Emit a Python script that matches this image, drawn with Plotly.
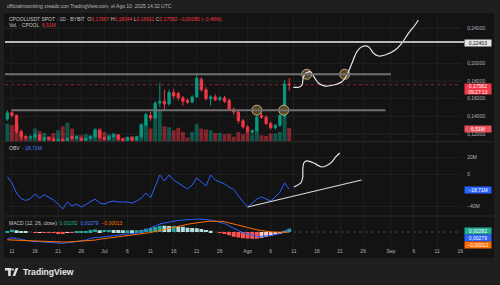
import plotly.graph_objects as go
import pandas as pd

W, H = 500, 285
def X(px): return px / W
def Y(py): return 1 - py / H

# ---------------- data ----------------
dates = pd.date_range("2025-06-10", periods=62, freq="D")
opens = [.137,.144,.141,.123,.117,.116,.117,.119,.113,.116,.114,.112,.114,.111,.117,.115,.115,.113,.115,.117,
         .124,.116,.114,.117,.119,.114,.113,.116,.113,.117,.130,.141,.138,.155,.157,.154,.167,.166,.161,.158,
         .156,.162,.182,.170,.160,.162,.159,.161,.158,.148,.145,.135,.128,.122,.124,.141,.139,.132,.127,.130,
         .141,.17667]
highs = [.147,.148,.142,.125,.119,.119,.121,.120,.117,.117,.116,.115,.115,.116,.118,.118,.116,.116,.118,.126,
         .125,.117,.118,.120,.120,.115,.117,.117,.118,.132,.144,.145,.157,.178,.170,.170,.171,.168,.163,.160,
         .164,.188,.184,.173,.164,.165,.163,.163,.160,.150,.147,.137,.130,.125,.142,.144,.141,.134,.131,.143,
         .181,.18344]
lows = [.135,.139,.121,.114,.114,.114,.115,.112,.111,.113,.111,.111,.110,.110,.114,.114,.112,.112,.114,.116,
        .115,.113,.113,.116,.113,.112,.112,.112,.112,.116,.129,.135,.137,.150,.147,.152,.160,.158,.152,.154,
        .155,.161,.168,.158,.152,.157,.157,.155,.146,.142,.132,.126,.121,.119,.122,.137,.130,.125,.125,.128,
        .138,.16911]
closes = [.144,.141,.123,.117,.116,.117,.119,.113,.116,.114,.112,.114,.111,.115,.115,.117,.113,.115,.117,.124,
          .116,.114,.117,.119,.114,.113,.116,.113,.117,.130,.142,.138,.155,.157,.154,.167,.163,.161,.157,.156,
          .162,.183,.170,.160,.162,.159,.161,.157,.148,.145,.135,.128,.123,.124,.139,.139,.132,.127,.130,.141,
          .17667,.17582]
volume_m = [8.5,7.8,8.6,3.5,2.6,2.0,6.2,5.1,4.1,2.6,4.1,5.4,7.3,8.9,6.2,3.1,3.1,3.5,3.1,6.2,
            6.2,4.6,3.5,4.1,3.5,2.0,2.3,2.6,2.6,8.5,10.1,6.2,15.2,15.2,7.3,6.8,5.4,6.6,4.6,2.0,
            4.6,8.2,6.2,5.8,5.4,4.1,4.1,3.5,3.8,2.3,4.6,3.5,4.6,3.1,7.0,3.0,2.7,3.9,3.9,4.6,
            14.9,6.51]
obv_m = [-3.3,-11.0,-23.3,-30.1,-32.5,-30.1,-24.5,-29.4,-25.2,-28.8,-31.9,-36.8,-42.9,-34.4,-39.3,-36.8,-40.5,-37.4,-34.4,-30.7,
         -35.6,-36.8,-34.4,-33.1,-34.4,-34.4,-34.4,-35.6,-33.1,-29.4,-23.3,-29.4,-14.7,-1.2,-8.6,-1.2,-7.4,-11.0,-14.7,-18.4,
         -13.5,-4.9,-9.8,-14.7,-1.2,-7.4,-9.8,-12.3,-15.9,-19.0,-27.0,-33.1,-40.5,-35.6,-30.7,-28.2,-30.7,-33.1,-28.2,-22.1,
         -11.0,-18.71]
macd_line = [-.0064,-.0052,-.0059,-.0068,-.0077,-.0082,-.0086,-.0086,-.0091,-.0094,-.0097,-.0100,-.0103,-.0095,-.0094,-.0086,-.0082,-.0073,-.0059,-.0050,
             -.0048,-.0041,-.0036,-.0032,-.0027,-.0023,-.0018,-.0014,-.0009,.0000,.0018,.0032,.0050,.0073,.0082,.0091,.0100,.0105,.0109,.0109,
             .0114,.0118,.0118,.0114,.0109,.0100,.0091,.0077,.0055,.0032,.0014,-.0005,-.0018,-.0032,-.0041,-.0039,-.0036,-.0032,-.0023,-.0014,
             .0009,.00279]
signal_line = [-.0071,-.0073,-.0075,-.0076,-.0078,-.0082,-.0084,-.0085,-.0087,-.0089,-.0091,-.0091,-.0091,-.0091,-.0089,-.0087,-.0085,-.0082,-.0077,-.0073,
               -.0065,-.0060,-.0055,-.0050,-.0045,-.0040,-.0035,-.0029,-.0024,-.0018,-.0012,-.0005,.0005,.0015,.0025,.0036,.0045,.0055,.0062,.0070,
               .0077,.0084,.0091,.0095,.0098,.0100,.0098,.0093,.0084,.0075,.0064,.0052,.0041,.0029,.0020,.0013,.0006,.0002,-.0001,-.0002,
               -.0002,-.00013]

price_ticks = [0.12, 0.14, 0.16, 0.18, 0.20, 0.24]
price_tick_text = ["0,12000", "0,14000", "0,16000", "0,18000", "0,20000", "0,24000"]
obv_ticks = [20, 0, -40]
obv_tick_text = ["20M", "0", "−40M"]
date_ticks = ["2025-06-11","2025-06-16","2025-06-21","2025-06-26","2025-07-01","2025-07-06","2025-07-11",
              "2025-07-16","2025-07-21","2025-07-26","2025-08-01","2025-08-06","2025-08-11","2025-08-16",
              "2025-08-21","2025-08-26","2025-09-01","2025-09-06","2025-09-11","2025-09-16"]
date_tick_text = ["11","16","21","26","Jul","6","11","16","21","26","Ago","6","11","16","21","26","Sep","6","11","16"]
grid_price = [0.12, 0.14, 0.16, 0.18, 0.20, 0.22, 0.24]

# drawn levels / annotations (data coordinates)
level_top = 0.22403
level_mid = 0.1876
level_low = 0.147
circle_dates = ["2025-08-03 00:00", "2025-08-08 20:00", "2025-08-13 19:00", "2025-08-22 00:00"]
circle_prices = [0.147, 0.147, 0.1876, 0.1876]
draw_base = pd.Timestamp("2025-06-11")
price_draw_days = [60.85, 62.08, 62.79, 63.01, 63.53, 64.6, 65.32, 66.39, 67.84, 69.63, 71.42, 72.5,
                   73.57, 74.65, 75.73, 77.17, 78.25, 79.33, 80.77, 82.93, 84.35, 85.79, 87.24, 87.95]
price_draw_vals = [0.1729, 0.1729, 0.1755, 0.1831, 0.1887, 0.1905, 0.1849, 0.1774, 0.1743, 0.1755, 0.1792, 0.1868,
                   0.2000, 0.2132, 0.2188, 0.2188, 0.2114, 0.2083, 0.2094, 0.2151, 0.2227, 0.2340, 0.2434, 0.2491]
obv_draw_days = [61.0, 62.51, 62.94, 62.94, 63.16, 63.81, 65.32, 67.04, 68.98, 70.06, 70.92]
obv_draw_vals = [-16.0, -11.0, -3.7, 4.9, 13.5, 16.0, 13.5, 8.6, 13.5, 20.9, 25.8]
obv_trend_days = [51.0, 75.66]
obv_trend_vals = [-40.5, -7.4]

# ---------------- style ----------------
FRAME = "#1f1f1f"
BG = "#131313"
GRID = "#1e1e1e"
TXT = "#b2b5be"
UP = "#089981"
DN = "#f23645"
FONT = "Liberation Sans, Arial, sans-serif"

fig = go.Figure()

vol_colors = ["rgba(8,153,129,0.5)" if c >= o else "rgba(242,54,69,0.5)" for o, c in zip(opens, closes)]
fig.add_trace(go.Bar(x=dates, y=volume_m, marker=dict(color=vol_colors, line=dict(width=0)),
                     xaxis="x", yaxis="y", hoverinfo="skip"))
fig.add_trace(go.Candlestick(x=dates, open=opens, high=highs, low=lows, close=closes,
                             increasing=dict(line=dict(color=UP, width=1), fillcolor=UP),
                             decreasing=dict(line=dict(color=DN, width=1), fillcolor=DN),
                             xaxis="x", yaxis="y2", hoverinfo="skip"))
fig.add_trace(go.Scatter(x=pd.to_datetime(circle_dates), y=circle_prices, mode="markers",
                         marker=dict(size=10, color="rgba(95,74,34,0.92)", line=dict(color="#bfae8a", width=1)),
                         xaxis="x", yaxis="y2", hoverinfo="skip"))
fig.add_trace(go.Scatter(x=[draw_base + pd.Timedelta(days=d) for d in price_draw_days], y=price_draw_vals,
                         mode="lines", line=dict(color="#e6e6e6", width=1.2, shape="spline", smoothing=0.8),
                         xaxis="x", yaxis="y2", hoverinfo="skip"))

# OBV
fig.add_trace(go.Scatter(x=dates, y=obv_m, mode="lines", line=dict(color="#2962ff", width=1),
                         xaxis="x2", yaxis="y3", hoverinfo="skip"))
fig.add_trace(go.Scatter(x=[draw_base + pd.Timedelta(days=d) for d in obv_trend_days], y=obv_trend_vals,
                         mode="lines", line=dict(color="#d8d8d8", width=1.2),
                         xaxis="x2", yaxis="y3", hoverinfo="skip"))
fig.add_trace(go.Scatter(x=[draw_base + pd.Timedelta(days=d) for d in obv_draw_days], y=obv_draw_vals,
                         mode="lines", line=dict(color="#e6e6e6", width=1.2, shape="spline", smoothing=0.8),
                         xaxis="x2", yaxis="y3", hoverinfo="skip"))

# MACD
hist = [m - s for m, s in zip(macd_line, signal_line)]
hcol = []
for i, h in enumerate(hist):
    prev = hist[i - 1] if i > 0 else h
    if h >= 0:
        hcol.append("#26a69a" if h >= prev else "#b2dfdb")
    else:
        hcol.append("#ffcdd2" if h >= prev else "#ff5252")
fig.add_trace(go.Bar(x=dates, y=hist, marker=dict(color=hcol, line=dict(width=0)),
                     xaxis="x3", yaxis="y4", hoverinfo="skip"))
fig.add_trace(go.Scatter(x=dates, y=macd_line, mode="lines", line=dict(color="#2962ff", width=1),
                         xaxis="x3", yaxis="y4", hoverinfo="skip"))
fig.add_trace(go.Scatter(x=dates, y=signal_line, mode="lines", line=dict(color="#ff6d00", width=1),
                         xaxis="x3", yaxis="y4", hoverinfo="skip"))

xr = ["2025-06-09 12:00", "2025-09-16 05:00"]
xcommon = dict(domain=[X(5), X(463)], range=xr, type="date", tickvals=date_ticks, ticktext=date_tick_text,
               showgrid=True, gridcolor=GRID, gridwidth=1, zeroline=False, showline=False, ticks="",
               tickfont=dict(size=5, color=TXT, family=FONT))

shapes = [
    dict(type="rect", xref="paper", yref="paper", x0=X(4), x1=X(496), y0=Y(258), y1=Y(13),
         fillcolor=BG, line=dict(width=0), layer="below"),
    dict(type="line", xref="paper", yref="paper", x0=X(4), x1=X(496), y0=Y(141.7), y1=Y(141.7),
         line=dict(color="#2b2b2b", width=1)),
    dict(type="line", xref="paper", yref="paper", x0=X(4), x1=X(496), y0=Y(216), y1=Y(216),
         line=dict(color="#2b2b2b", width=1)),
    dict(type="line", xref="paper", yref="y2", x0=X(5), x1=X(463), y0=closes[-1], y1=closes[-1],
         line=dict(color="rgba(242,54,69,0.55)", width=1, dash="dot"), layer="below"),
    dict(type="line", xref="paper", yref="y2", x0=X(5), x1=X(466), y0=level_top, y1=level_top,
         line=dict(color="#b8b8b8", width=2)),
    dict(type="line", xref="x", yref="y2", x0="2025-06-09 12:00", x1="2025-09-01 00:00", y0=level_mid, y1=level_mid,
         line=dict(color="#707070", width=2)),
    dict(type="line", xref="x", yref="y2", x0="2025-06-11 00:00", x1="2025-08-30 20:00", y0=level_low, y1=level_low,
         line=dict(color="#707070", width=2)),
    dict(type="line", xref="paper", yref="y4", x0=X(5), x1=X(463), y0=0, y1=0,
         line=dict(color="#444444", width=1, dash="dot"), layer="below"),
    # TradingView logo glyph
    dict(type="rect", xref="paper", yref="paper", x0=X(5), x1=X(11.5), y0=Y(270.5), y1=Y(268),
         fillcolor="#e0e0e0", line=dict(width=0)),
    dict(type="rect", xref="paper", yref="paper", x0=X(8.2), x1=X(10.8), y0=Y(276), y1=Y(268),
         fillcolor="#e0e0e0", line=dict(width=0)),
    dict(type="circle", xref="paper", yref="paper", x0=X(11.8), x1=X(14.0), y0=Y(270.6), y1=Y(268.4),
         fillcolor="#e0e0e0", line=dict(width=0)),
    dict(type="path", xref="paper", yref="paper",
         path=f"M {X(12.6)} {Y(276)} L {X(15.8)} {Y(268)} L {X(18.4)} {Y(268)} L {X(15.2)} {Y(276)} Z",
         fillcolor="#e0e0e0", line=dict(width=0)),
]
# faint price grid at every level (incl. the ones whose labels sit under boxes)
for gp in grid_price:
    shapes.append(dict(type="line", xref="paper", yref="y2", x0=X(5), x1=X(463), y0=gp, y1=gp,
                       line=dict(color=GRID, width=1), layer="below"))

def ann(x, y, text, size=5, color="#c8c8c8", anchor="left", **kw):
    d = dict(x=X(x), y=Y(y), xref="paper", yref="paper", text=text, showarrow=False,
             xanchor=anchor, yanchor="middle", font=dict(size=size, color=color, family=FONT))
    d.update(kw)
    return d

R = "#f23645"
def red(t): return f"<span style='color:{R}'>{t}</span>"

annotations = [
    ann(5, 6.3, "officialmoonking creado con TradingView.com, el Ago 10, 2025 14:32 UTC", color="#b8b8b8"),
    ann(7.5, 19, "CPOOLUSDT SPOT · 1D · BYBIT  O" + red("0,17667") + " H" + red("0,18344") + " L" + red("0,16911")
        + " C" + red("0,17582") + " " + red("−0,00085 (−0,48%)")),
    ann(7.5, 25, "Vol. · CPOOL  " + red("6,51M")),
    ann(7.5, 148.3, "OBV  <span style='color:#4f7cff'>−18,71M</span>"),
    ann(7.5, 222.7, "MACD (12, 26, close)  <span style='color:#22ab94'>0,00292</span>  "
        "<span style='color:#4f7cff'>0,00279</span>  <span style='color:#ff6d00'>−0,00013</span>"),
    ann(21, 272, "<b>TradingView</b>", size=8.6, color="#e8e8e8"),
]

def box(y, text, bg, fc="#ffffff", h=6):
    return dict(x=X(479.5), y=Y(y), xref="paper", yref="paper", text=text, showarrow=False,
                xanchor="center", yanchor="middle", width=26, height=h, bgcolor=bg, borderpad=0,
                font=dict(size=5, color=fc, family=FONT))

annotations += [
    box(43, "0,22403", "#e6e6e6", fc="#131313"),
    box(89, "0,17582<br>09:27:13", "#f23645", h=10),
    box(128.5, "6,51M", "#e8505c"),
    box(189.5, "−18,71M", "#2962ff"),
    box(231, "0,00292", "#22ab94"),
    box(238, "0,00279", "#2962ff"),
    box(245, "−0,00013", "#ff6d00"),
]

ycommon = dict(side="right", showgrid=True, gridcolor=GRID, zeroline=False, showline=False, ticks="",
               tickfont=dict(size=5, color=TXT, family=FONT), ticklabelstandoff=5)

fig.update_layout(
    width=W, height=H, margin=dict(l=0, r=0, t=0, b=0),
    paper_bgcolor=FRAME, plot_bgcolor="rgba(0,0,0,0)",
    showlegend=False, bargap=0.15, font=dict(family=FONT),
    xaxis=dict(xcommon, anchor="y", showticklabels=False, rangeslider=dict(visible=False)),
    xaxis2=dict(xcommon, anchor="y3", matches="x", showticklabels=False),
    xaxis3=dict(xcommon, anchor="y4", matches="x", showticklabels=True),
    yaxis=dict(domain=[Y(141.7), Y(13.5)], range=[0, 60.5], visible=False, anchor="x"),
    yaxis2=dict(ycommon, overlaying="y", anchor="x", range=[0.11129, 0.25641],
                tickvals=price_ticks, ticktext=price_tick_text),
    yaxis3=dict(ycommon, domain=[Y(216), Y(141.7)], anchor="x2", range=[-51.5, 39.6],
                tickvals=obv_ticks, ticktext=obv_tick_text),
    yaxis4=dict(domain=[Y(247), Y(216)], anchor="x3", side="right", range=[-0.0136, 0.01455],
                showticklabels=False, showgrid=False, zeroline=False),
    shapes=shapes, annotations=annotations,
)

fig.write_html("out.html")
